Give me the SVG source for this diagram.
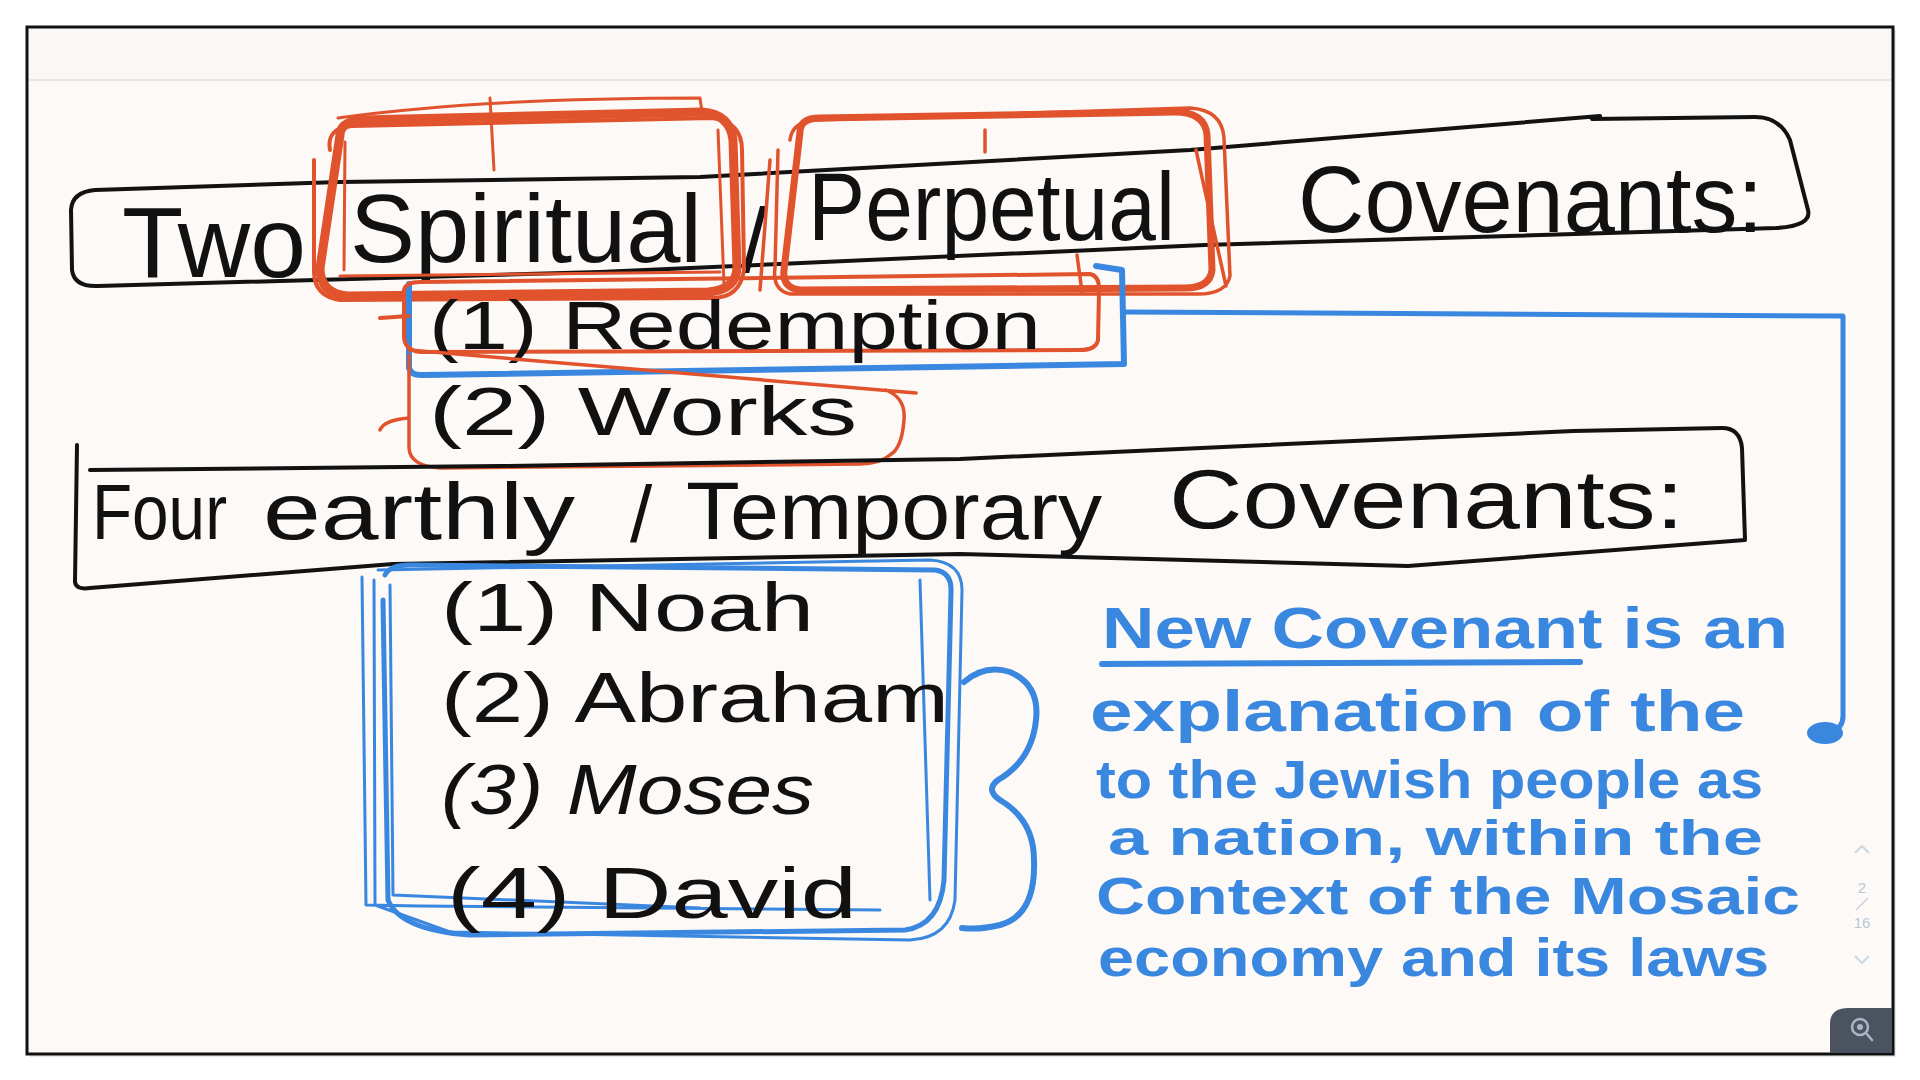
<svg xmlns="http://www.w3.org/2000/svg" width="1920" height="1080" viewBox="0 0 1920 1080">
<style>
.ink{fill:none;stroke:#121212;stroke-width:4;stroke-linecap:round;stroke-linejoin:round}
.red{fill:none;stroke:#e0532d;stroke-linecap:round;stroke-linejoin:round}
.blue{fill:none;stroke:#3a87e0;stroke-linecap:round;stroke-linejoin:round}
.bt{font-family:"Liberation Sans","DejaVu Sans",sans-serif;fill:#111}
.nt{font-family:"Liberation Sans","DejaVu Sans",sans-serif;fill:#3a87e0;font-weight:700}
.pg{font-family:"Liberation Sans",sans-serif;fill:#b9c7d6;font-size:15px;text-anchor:middle}
</style>
<rect width="1920" height="1080" fill="#ffffff"/>
<rect x="30" y="30" width="1866" height="1027" fill="#d8d8d8" opacity="0.6"/>
<rect x="27" y="27" width="1866" height="1027" fill="#fcf9f7" stroke="#111" stroke-width="3"/>
<rect x="29" y="29" width="1862" height="51" fill="#faf8f6"/>
<line x1="29" y1="80" x2="1891" y2="80" stroke="#e7e4e1" stroke-width="2"/>

<g id="header-spiritual">
<path class="ink" d="M 95 190 Q 72 192 71 210 L 72 270 Q 74 287 98 286 L 600 272 L 1205 245 L 1776 228 Q 1812 226 1808 210 L 1790 140 Q 1780 117 1755 117 L 1592 119 M 1600 116 L 1190 150 L 700 177 L 340 182 L 95 190"/>
<text class="bt" font-size="100" x="122" y="277" textLength="184" lengthAdjust="spacingAndGlyphs">Two</text>
<text class="bt" font-size="96" x="350" y="262" textLength="352" lengthAdjust="spacingAndGlyphs">Spiritual</text>
<text class="bt" font-size="90" x="742" y="272">/</text>
<text class="bt" font-size="96" x="808" y="240" textLength="367" lengthAdjust="spacingAndGlyphs">Perpetual</text>
<text class="bt" font-size="94" x="1298" y="232" textLength="465" lengthAdjust="spacingAndGlyphs">Covenants:</text>
</g>

<g id="mark-spiritual">
<path class="red" stroke-width="9" d="M 340 135 Q 340 122 362 120 L 702 112 Q 730 114 733 140 L 737 268 Q 736 290 708 292 L 348 296 Q 320 294 320 268 Z"/>
<path class="red" stroke-width="4" d="M 330 150 Q 326 128 352 126 L 712 118 Q 742 122 742 150 L 744 270 Q 740 298 712 298 L 340 300 Q 314 296 314 272 L 314 160"/>
<path class="red" stroke-width="3" d="M 338 118 Q 480 98 700 98 L 702 112 M 345 142 L 344 270 M 718 130 L 724 285 M 490 98 L 494 170 M 340 276 L 720 272"/>
</g>

<g id="mark-perpetual">
<path class="red" stroke-width="7" d="M 800 132 Q 800 118 820 118 L 1175 112 Q 1205 112 1207 135 L 1212 270 Q 1210 288 1185 288 L 800 290 Q 782 288 784 270 Z"/>
<path class="red" stroke-width="3.5" d="M 790 140 Q 792 122 815 120 L 1190 108 Q 1222 110 1224 138 L 1230 276 Q 1226 295 1195 294 L 790 294 Q 772 290 775 268 L 778 150 M 770 160 L 760 290 M 1196 150 L 1226 286 M 985 130 L 985 152 M 1077 255 L 1082 292"/>
</g>

<g id="redemption">
<path class="blue" stroke-width="6" d="M 409 284 L 409 368 Q 411 376 424 375 L 1124 364 L 1122 270 L 1096 266"/>
<path class="red" stroke-width="4" d="M 404 290 Q 406 282 420 282 L 1090 274 Q 1100 276 1099 292 L 1098 340 Q 1096 350 1080 350 L 420 352 Q 404 350 404 336 Z M 380 318 L 409 316"/>
<text class="bt" font-size="68" x="429" y="349" textLength="612" lengthAdjust="spacingAndGlyphs">(1) Redemption</text>
</g>

<g id="works">
<path class="red" stroke-width="3.5" d="M 409 350 L 916 393 M 886 390 Q 906 398 904 420 Q 902 448 890 455 Q 880 464 860 464 L 440 468 Q 410 466 409 448 L 409 355 M 380 430 Q 384 420 409 418"/>
<text class="bt" font-size="68" x="429" y="435" textLength="428" lengthAdjust="spacingAndGlyphs">(2) Works</text>
</g>

<g id="header-earthly">
<path class="ink" d="M 77 445 L 75 582 Q 76 590 90 588 L 393 564 L 960 554 L 1408 566 L 1745 540 L 1742 448 Q 1740 428 1722 428 L 1573 431 L 960 459 L 500 466 L 90 470"/>
<text class="bt" font-size="78" x="92" y="539" textLength="135" lengthAdjust="spacingAndGlyphs">Four</text>
<text class="bt" font-size="80" x="263" y="539" textLength="312" lengthAdjust="spacingAndGlyphs">earthly</text>
<text class="bt" font-size="80" x="630" y="542">/</text>
<text class="bt" font-size="82" x="686" y="539" textLength="416" lengthAdjust="spacingAndGlyphs">Temporary</text>
<text class="bt" font-size="84" x="1169" y="528" textLength="515" lengthAdjust="spacingAndGlyphs">Covenants:</text>
</g>

<g id="earthly-list">
<path class="blue" stroke-width="5" d="M 385 575 Q 390 565 410 565 L 935 570 Q 952 572 951 592 L 944 880 Q 940 925 905 930 L 470 935 Q 400 930 388 900 L 383 600"/>
<path class="blue" stroke-width="3" d="M 378 570 L 930 560 Q 962 562 962 590 L 955 900 Q 950 938 910 940 L 450 932 L 375 905 L 374 580 M 362 577 L 366 905 L 420 906 L 880 910 M 390 585 L 393 895 L 700 908 M 920 580 L 930 900"/>
<text class="bt" font-size="68" x="441" y="631" textLength="373" lengthAdjust="spacingAndGlyphs">(1) Noah</text>
<text class="bt" font-size="70" x="441" y="722" textLength="508" lengthAdjust="spacingAndGlyphs">(2) Abraham</text>
<text class="bt" font-size="70" x="441" y="814" textLength="373" lengthAdjust="spacingAndGlyphs" font-style="italic">(3) Moses</text>
<text class="bt" font-size="72" x="447" y="918" textLength="410" lengthAdjust="spacingAndGlyphs">(4) David</text>
</g>

<g id="new-covenant-note">
<path class="blue" stroke-width="6" d="M 1102 664 L 1580 662"/>
<g class="nt">
<text font-size="58" x="1102" y="648" textLength="686" lengthAdjust="spacingAndGlyphs">New Covenant is an</text>
<text font-size="58" x="1090" y="731" textLength="655" lengthAdjust="spacingAndGlyphs">explanation of the</text>
<text font-size="54" x="1096" y="798" textLength="667" lengthAdjust="spacingAndGlyphs">to the Jewish people as</text>
<text font-size="50" x="1108" y="855" textLength="655" lengthAdjust="spacingAndGlyphs">a nation, within the</text>
<text font-size="52" x="1096" y="914" textLength="704" lengthAdjust="spacingAndGlyphs">Context of the Mosaic</text>
<text font-size="54" x="1098" y="976" textLength="671" lengthAdjust="spacingAndGlyphs">economy and its laws</text>
</g>
</g>

<g id="connectors">
<path id="brace" class="blue" stroke-width="6" d="M 964 682 Q 985 664 1010 672 Q 1040 685 1036 720 Q 1032 760 998 780 Q 985 790 1000 800 Q 1034 820 1034 860 Q 1036 915 1000 925 Q 980 930 962 928"/>
<path id="link" class="blue" stroke-width="5" d="M 1124 312 L 1843 316 L 1843 716 Q 1843 728 1832 731"/>
<ellipse class="blob" cx="1825" cy="733" rx="18" ry="11" fill="#3a87e0"/>
</g>

<g id="pager">
<path d="M 1855 853 L 1862 846 L 1869 853" fill="none" stroke="#cfd8e2" stroke-width="2"/>
<text class="pg" x="1862" y="893">2</text>
<line x1="1856" y1="910" x2="1868" y2="898" stroke="#c5d2df" stroke-width="1.5"/>
<text class="pg" x="1862" y="928">16</text>
<path d="M 1855 956 L 1862 963 L 1869 956" fill="none" stroke="#cfd8e2" stroke-width="2"/>
</g>

<g id="zoom-button">
<path d="M 1830 1053 L 1830 1024 Q 1830 1008 1848 1008 L 1892 1008 L 1892 1053 Z" fill="#4b5361"/>
<circle cx="1860" cy="1027" r="8" fill="none" stroke="#a8b6c6" stroke-width="2.5"/>
<circle cx="1860" cy="1027" r="3" fill="#a8b6c6"/>
<line x1="1866" y1="1033" x2="1872" y2="1040" stroke="#a8b6c6" stroke-width="2.5" stroke-linecap="round"/>
</g>
</svg>
